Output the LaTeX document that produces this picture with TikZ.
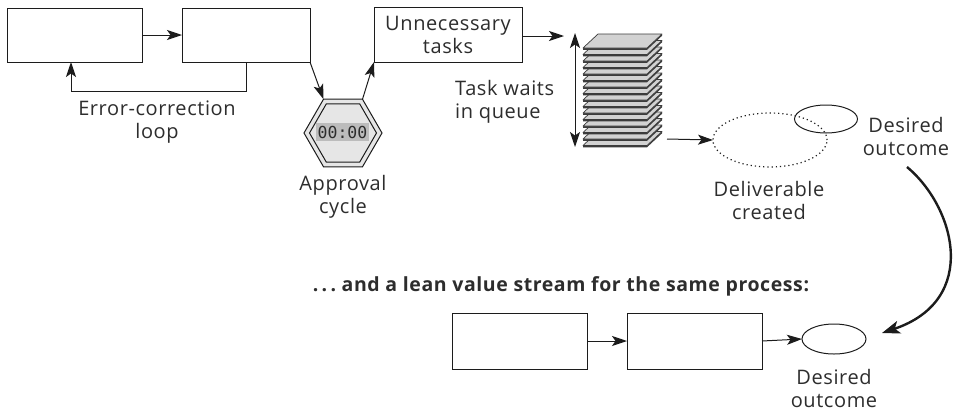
\documentclass[tikz,border=0pt]{standalone}
\usepackage{fontspec}
\setmainfont{Open Sans}[LetterSpace=3]
\newfontfamily\clockfont{DejaVu Sans Mono}
\usetikzlibrary{arrows.meta,shapes.geometric}

\definecolor{ink}{HTML}{2D2D2D}
\definecolor{stroke}{HTML}{1C1C1C}
\definecolor{hexfill}{HTML}{E6E6E6}
\definecolor{clockbg}{HTML}{BCBCBC}
\definecolor{sheet}{HTML}{D2D2D2}
\definecolor{sheetedge}{HTML}{3C3C3C}

\tikzset{
  lbl/.style={text=ink, font=\fontsize{20}{23}\selectfont, align=center, inner sep=0pt},
  taskbox/.style={draw=stroke, line width=1pt, fill=white, inner sep=0pt, outer sep=0pt},
  flow/.style={draw=stroke, line width=1pt, -{Stealth[length=15pt,width=10pt,inset=3.5pt]}},
  twoway/.style={draw=stroke, line width=1pt, {Stealth[length=15pt,width=10pt,inset=3.5pt]}-{Stealth[length=15pt,width=10pt,inset=3.5pt]}},
  bigflow/.style={draw=stroke, line width=2.4pt, -{Stealth[length=18pt,width=13pt,inset=4.5pt]}},
  oval/.style={ellipse, draw=stroke, line width=1pt, inner sep=0pt, outer sep=0pt},
  hexa/.style={regular polygon, regular polygon sides=6, draw=stroke, line width=1pt, inner sep=0pt, outer sep=0pt}
}

\begin{document}
\begin{tikzpicture}[x=1pt,y=-1pt]
\useasboundingbox (0,0) rectangle (956,413);

% ---------- current value stream ----------
\node[taskbox, minimum width=135pt, minimum height=54pt] (b1) at (74.5,35) {};
\node[taskbox, minimum width=128pt, minimum height=54pt] (b2) at (246,35) {};
\node[taskbox, minimum width=148pt, minimum height=55pt, lbl] (unn) at (448,34.5) {Unnecessary\\tasks};

\draw[flow] (b1.east) -- (b2.west);
% error-correction loop
\coordinate (loopR) at (246,91);
\coordinate (loopL) at (71,91);
\draw[flow] (b2.south) -- (loopR) -- (loopL) -- (loopL |- b1.south);
\node[lbl] (errlbl) at (157,122) {Error-correction\\loop};

% approval clock
\node[hexa, fill=hexfill, minimum size=78pt] (timer) at (343,133) {};
\node[hexa, minimum size=67pt] (timerin) at (343,133) {};
\node[fill=clockbg, text=ink, inner xsep=1.5pt, inner ysep=3pt, font=\clockfont\fontsize{16.5}{16.5}\selectfont] (clock) at (342.5,132) {00:00};
\node[lbl] (applbl) at (343,197) {Approval\\cycle};

\draw[flow] (b2.south east) -- (timer.120);
\draw[flow] (timer.60) -- (unn.south west);

% queue
\coordinate (qin) at (564,36);
\draw[flow] (unn.east |- qin) -- (qin);
\coordinate (qtop) at (575,33);
\coordinate (qbot) at (575,147);
\draw[twoway] (qtop) -- (qbot);
\node[lbl, align=left, anchor=west] (qlbl) at (455,101.5) {Task waits\\in queue};

% stack of waiting tasks
\foreach \i in {15,14,...,0}{
  \pgfmathsetmacro{\yy}{34+6.5*\i}
  \fill[sheetedge] (583,\yy+14) -- (647,\yy+14) -- (662,\yy) -- (662,\yy+1.8) -- (647,\yy+15.8) -- (583,\yy+15.8) -- cycle;
  \filldraw[fill=sheet, draw=sheetedge, line width=0.7pt, line join=round] (598,\yy) -- (662,\yy) -- (647,\yy+14) -- (583,\yy+14) -- cycle;
}

% deliverable vs desired outcome
\node[oval, line width=1.2pt, dash pattern=on 1.2pt off 3pt, minimum width=114pt, minimum height=54pt] (deliv) at (770,140) {};
\node[oval, minimum width=63pt, minimum height=28pt] (goal) at (826,119) {};
\coordinate (qout) at (667,139);
\draw[flow] (qout) -- (deliv.west);
\node[lbl] (delivlbl) at (769,200) {Deliverable\\created};
\node[lbl] (goallbl) at (906,136) {Desired\\outcome};

% ---------- lean value stream ----------
\node[text=ink, font=\fontsize{19.5}{23}\selectfont\bfseries, inner sep=0pt] (lean) at (561,286) {.\,.\,.\ and a lean value stream for the same process:};

\node[taskbox, minimum width=135pt, minimum height=56pt] (l1) at (519.5,341) {};
\node[taskbox, minimum width=135pt, minimum height=56pt] (l2) at (694.5,341) {};
\node[oval, minimum width=64pt, minimum height=30pt] (lgoal) at (834,339) {};
\node[lbl] (lgoallbl) at (834,388) {Desired\\outcome};

\draw[flow] (l1.east) -- (l2.west);
\draw[flow] (l2.east) -- (lgoal.west);

% from the old outcome to the lean one
\coordinate (tip) at (882,333);
\draw[bigflow] (907,167) .. controls (955,207) and (980,300) .. (tip);
\end{tikzpicture}
\end{document}
